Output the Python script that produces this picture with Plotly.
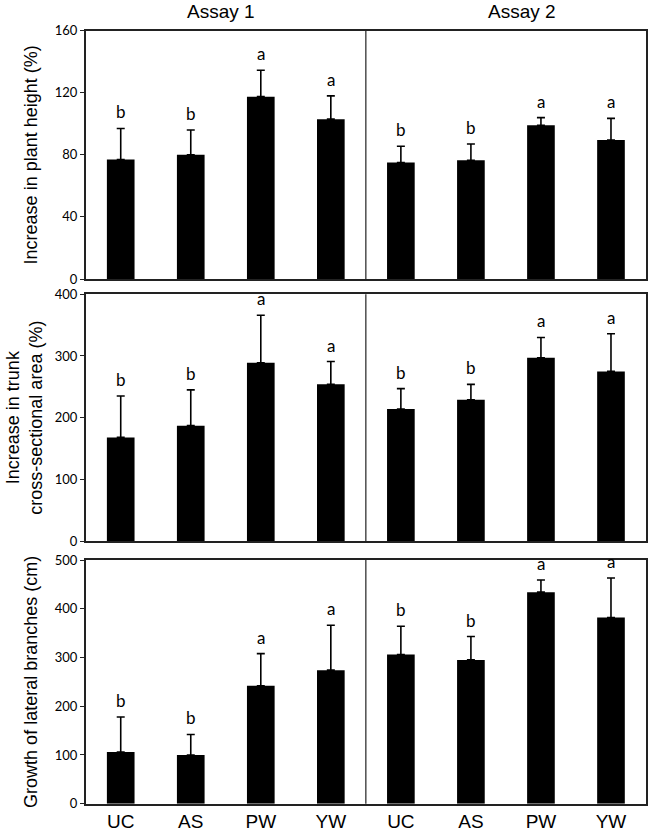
import plotly.graph_objects as go

W, H = 650, 832

categories = ["UC", "AS", "PW", "YW", "UC", "AS", "PW", "YW"]
assays = ["Assay 1", "Assay 2"]

height_vals = [77, 80, 117.5, 103, 75, 76.5, 99, 89.5]
height_err = [20, 16, 17, 15, 10.5, 10.5, 5, 14]
height_letters = ["b", "b", "a", "a", "b", "b", "a", "a"]

trunk_vals = [168, 187, 289, 254, 214, 229, 297, 275]
trunk_err = [67, 58, 77, 37, 33, 25, 33, 61]
trunk_letters = ["b", "b", "a", "a", "b", "b", "a", "a"]

branch_vals = [106, 100, 242, 274, 306, 295, 434, 382]
branch_err = [72, 42, 66, 92, 58, 48, 25, 81]
branch_letters = ["b", "b", "a", "a", "b", "b", "a", "a"]

y_titles = ["Increase in plant height (%)",
            "Increase in trunk<br>cross-sectional area (%)",
            "Growth of lateral branches (cm)"]
y_ranges = [[0, 160], [0, 400], [0, 500]]
y_dtick = [40, 100, 100]
y_standoff = [12, 7, 12]

panels = [(height_vals, height_err, height_letters),
          (trunk_vals, trunk_err, trunk_letters),
          (branch_vals, branch_err, branch_letters)]

# pixel geometry
x_left, x_right = 85.7, 646
rows_px = [(30.7, 279), (294.3, 541), (560, 803.7)]

fig = go.Figure()
xpos = list(range(len(categories)))

for i, (vals, err, letters) in enumerate(panels):
    n = i + 1
    xa = "x" if n == 1 else f"x{n}"
    ya = "y" if n == 1 else f"y{n}"
    fig.add_trace(go.Bar(
        x=xpos, y=vals, xaxis=xa, yaxis=ya,
        marker=dict(color="black", line=dict(width=0)),
        width=0.395,
        error_y=dict(type="data", array=err, arrayminus=[0] * len(err),
                     symmetric=False, color="black", thickness=1.6, width=4),
        showlegend=False, hoverinfo="skip",
    ))
    for xi, v, e, lt in zip(xpos, vals, err, letters):
        fig.add_annotation(x=xi, y=v + e, xref=xa, yref=ya, text=lt,
                           showarrow=False, yanchor="bottom", yshift=4,
                           font=dict(family="Lato", size=17, color="black"))
    # divider between assays
    fig.add_shape(type="line", xref=xa, yref=f"{ya} domain", x0=3.5, x1=3.5,
                  y0=0, y1=1, line=dict(color="#222", width=1.2))
    top, bot = rows_px[i]
    dom_y = [1 - bot / H, 1 - top / H]
    dom_x = [x_left / W, x_right / W]
    xkey = "xaxis" if n == 1 else f"xaxis{n}"
    ykey = "yaxis" if n == 1 else f"yaxis{n}"
    fig.update_layout(**{
        xkey: dict(domain=dom_x, anchor=ya, range=[-0.5, 7.5], automargin=False,
                   tickvals=xpos, ticktext=categories,
                   showticklabels=(n == 3), ticks="",
                   showline=True, linecolor="#222", linewidth=1.6, mirror=True,
                   showgrid=False, zeroline=False,
                   tickfont=dict(family="Arial", size=19, color="black")),
        ykey: dict(domain=dom_y, anchor=xa, range=y_ranges[i], dtick=y_dtick[i],
                   automargin=False,
                   ticks="outside", ticklen=4, tickcolor="#222", tickwidth=1.2,
                   showline=True, linecolor="#222", linewidth=1.6, mirror=True,
                   showgrid=False, zeroline=False,
                   tickfont=dict(family="Lato", size=13, color="black"),
                   title=dict(text=y_titles[i], standoff=y_standoff[i],
                              font=dict(family="Arial", size=18, color="black"))),
    })

# Assay titles
for txt, xc in zip(assays, [221, 522]):
    fig.add_annotation(x=xc / W, y=1 - 12 / H, xref="paper", yref="paper",
                       text=txt, showarrow=False, xanchor="center", yanchor="middle",
                       font=dict(family="Arial", size=19, color="black"))

fig.update_layout(width=W, height=H, margin=dict(l=0, r=0, t=0, b=0, autoexpand=False),
                  plot_bgcolor="white", paper_bgcolor="white")

fig.write_html("out.html", config={"displayModeBar": False},
               post_script="document.body.style.margin='0';"
                           "document.body.style.overflow='hidden';")
